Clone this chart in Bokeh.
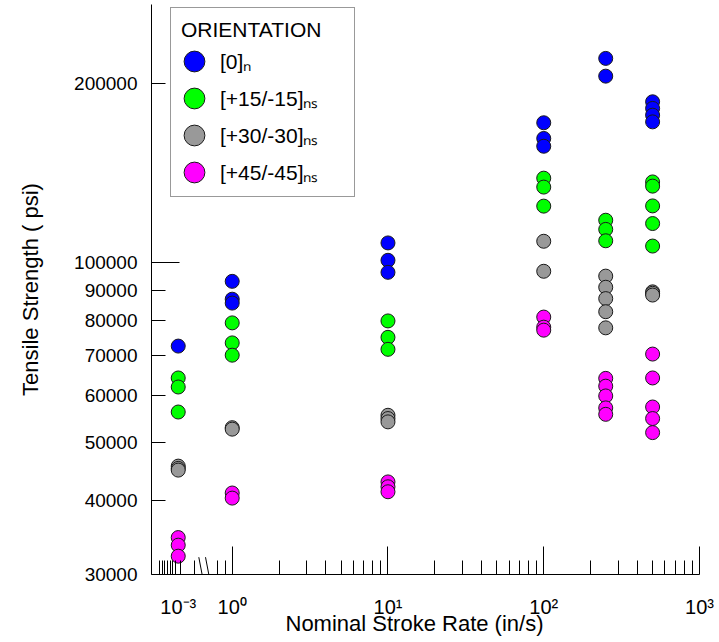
import numpy as np
from bokeh.plotting import figure
from bokeh.models import (Range1d, LinearScale, FixedTicker, Legend, LogAxis,
                          LegendItem, Arrow, Title)
from bokeh.embed import file_html
from bokeh.resources import INLINE

# ---------------- data ----------------
RATE_GROUPS = [0.001, 1, 10, 100, 250, 500]          # nominal stroke rate (in/s)
ORIENTATIONS = ["[0]ₙ", "[+15/-15]ₙₛ", "[+30/-30]ₙₛ", "[+45/-45]ₙₛ"]
COLORS = ["#0000FF", "#00FF00", "#999999", "#FF00FF"]

# tensile strength (psi), one list per rate group
STRENGTH_0 = [[72500], [93100, 86900, 85600], [108000, 101000, 96400],
              [171800, 161700, 156900], [220300, 205700],
              [186300, 181600, 176900, 172400]]
STRENGTH_15 = [[64100, 61900, 56200], [79300, 73400, 70000], [79900, 75000, 71600],
               [138700, 134000, 124500], [117900, 113800, 108900],
               [136700, 134500, 124600, 116400, 106700]]
STRENGTH_30 = [[45600, 45200, 44900], [52900, 52600], [55500, 54800, 54100],
               [108700, 96800], [95000, 91000, 87100, 82800, 77800],
               [89400, 88900, 88300]]
STRENGTH_45 = [[34600, 33600, 32200], [41100, 40300], [42900, 42100, 41300],
               [81100, 78000, 77100], [64000, 62100, 59800, 57100, 55700],
               [70300, 64100, 57300, 54800, 51900]]
SERIES = [STRENGTH_0, STRENGTH_15, STRENGTH_30, STRENGTH_45]

Y_TICKS = [30000, 40000, 50000, 60000, 70000, 80000, 90000, 100000, 200000]
Y_LONG = [100000]
X_MAJOR = [1, 10, 100, 1000]
X_MINOR = [0.8, 0.9] + [k * 10 ** e for e in (0, 1, 2) for k in range(2, 10)]
X_LABELS = {1: "10⁰", 10: "10¹", 100: "10²", 1000: "10³"}
LOW_TICK = 0.001
LOW_MINOR = [0.0003, 0.0004, 0.0005, 0.0006, 0.0007, 0.0008, 0.0009, 0.0011, 0.0016]
LOW_LABEL = "10⁻³"
LOW_CUT = 0.01

Y_MIN, Y_MAX = 30000, 271300
FONT = "Liberation Sans"

# ---------------- figure ----------------
p = figure(width=719, height=642, x_axis_type="log", y_axis_type="log",
           x_range=Range1d(0.3033, 1000), y_range=Range1d(Y_MIN, Y_MAX),
           output_backend="svg", toolbar_location=None, title=None,
           min_border_left=151, min_border_right=20, min_border_top=4,
           min_border_bottom=68)
p.extra_x_ranges = {"low": Range1d(0, 0.0205)}     # broken (linear) low-rate segment
p.extra_x_scales = {"low": LinearScale()}
p.outline_line_color = None
p.grid.visible = False
p.background_fill_color = "white"
p.border_fill_color = "white"

LO, MX = p.extra_x_ranges["low"], p.x_range


def low_to_main(v):
    """position of a low-segment value expressed on the main log axis"""
    f = (v - LO.start) / (LO.end - LO.start)
    a, b = np.log10(MX.start), np.log10(MX.end)
    return float(10 ** (a + f * (b - a)))


# y axis
ya = p.yaxis[0]
ya.ticker = FixedTicker(ticks=Y_TICKS, minor_ticks=Y_LONG)
ya.major_label_overrides = {t: str(t) for t in Y_TICKS}
ya.major_tick_in = 14
ya.major_tick_out = 0
ya.minor_tick_in = 28
ya.minor_tick_out = 0
ya.major_label_standoff = 14
ya.major_label_text_font = FONT
ya.major_label_text_font_size = "19px"
ya.major_label_text_color = "black"
ya.axis_line_color = "black"
ya.major_tick_line_color = "black"
ya.minor_tick_line_color = "black"
ya.axis_label = "Tensile Strength ( psi)"
ya.axis_label_text_font = FONT
ya.axis_label_text_font_size = "22px"
ya.axis_label_text_font_style = "normal"
ya.axis_label_text_color = "black"
ya.axis_label_standoff = 28

# x axis: line + tick marks (main log part and broken low segment)
xa = p.xaxis[0]
xa.ticker = FixedTicker(ticks=X_MAJOR,
                        minor_ticks=X_MINOR + [low_to_main(v) for v in LOW_MINOR])
xa.major_label_overrides = {t: "" for t in X_MAJOR}
xa.major_tick_in = 28
xa.major_tick_out = 0
xa.minor_tick_in = 14
xa.minor_tick_out = 0
xa.major_label_text_font_size = "1px"
xa.major_label_standoff = 0
xa.axis_line_color = "black"
xa.major_tick_line_color = "black"
xa.minor_tick_line_color = "black"

# x axis: tick labels (incl. the low segment's 10^-3)
low_pos = low_to_main(LOW_TICK)
labels = dict(X_LABELS)
labels[low_pos] = LOW_LABEL
xl = LogAxis(ticker=FixedTicker(ticks=X_MAJOR + [low_pos], minor_ticks=[]),
             major_label_overrides=labels, axis_line_color=None,
             major_tick_line_color=None, minor_tick_line_color=None,
             major_tick_in=0, major_tick_out=0, minor_tick_in=0, minor_tick_out=0,
             major_label_standoff=21, major_label_text_font=FONT,
             major_label_text_font_size="20px", major_label_text_color="black")
p.add_layout(xl, "below")

# data points
items = []
for name, color, vals in zip(ORIENTATIONS, COLORS, SERIES):
    xs_m, ys_m, xs_l, ys_l = [], [], [], []
    for rate, group in zip(RATE_GROUPS, vals):
        for v in group:
            if rate < LOW_CUT:
                xs_l.append(rate); ys_l.append(v)
            else:
                xs_m.append(rate); ys_m.append(v)
    style = dict(width=14, height=14, width_units="screen", height_units="screen",
                 fill_color=color, line_color="#1a1a1a", line_width=1)
    r = p.ellipse(x=xs_m, y=ys_m, **style)
    p.ellipse(x=xs_l, y=ys_l, x_range_name="low", **style)
    items.append(LegendItem(label=name, renderers=[r]))

legend = Legend(items=items, title="ORIENTATION", location=(19, 377),
                glyph_width=26, glyph_height=26, padding=10, spacing=9,
                label_standoff=13, title_standoff=5, margin=0, label_width=124,
                label_text_font=FONT, label_text_font_size="21px",
                label_text_color="black",
                title_text_font=FONT, title_text_font_size="21px",
                title_text_font_style="normal", title_text_color="black",
                border_line_color="#333333", border_line_width=1,
                background_fill_color="white", background_fill_alpha=1)
p.add_layout(legend)

# x axis title
p.add_layout(Title(text="Nominal Stroke Rate (in/s)", align="left", offset=134,
                   standoff=-20, vertical_align="top", text_font=FONT,
                   text_font_size="22px", text_font_style="normal",
                   text_color="black"), "below")

# axis break marks
for x0 in (47.3, 54.0):
    p.add_layout(Arrow(start=None, end=None, x_start=x0, y_start=17.3,
                       x_end=x0 + 6.7, y_end=-17.7, start_units="screen",
                       end_units="screen", line_color="black", line_width=1))

open("out.html", "w").write(file_html(p, INLINE))
